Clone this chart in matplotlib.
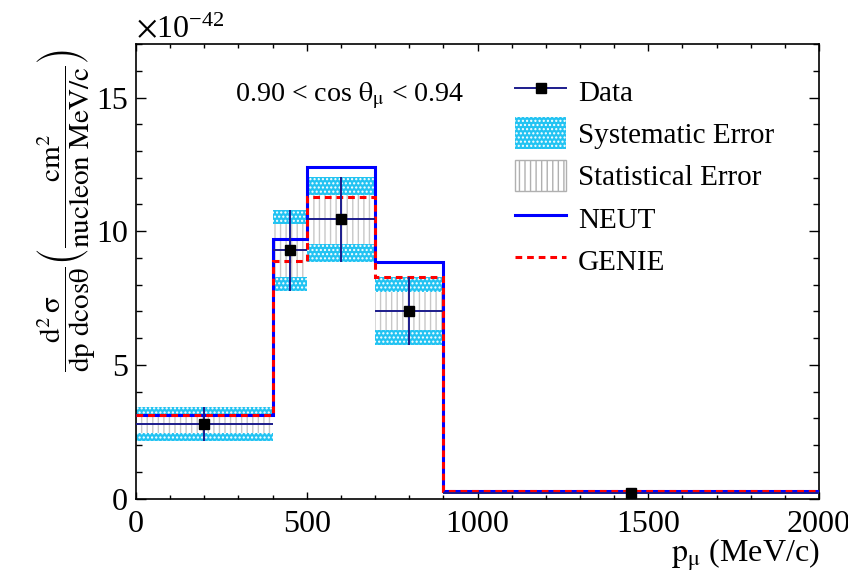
import matplotlib
matplotlib.use("Agg")
import matplotlib.pyplot as plt
from matplotlib.lines import Line2D
from matplotlib.patches import Patch
from matplotlib.ticker import MultipleLocator
import numpy as np

# muon momentum bins (MeV/c) and cross sections in units of 1e-42 cm2/nucleon/(MeV/c)
bin_edges = [0, 400, 500, 700, 900, 2000]
data_x = [200, 450, 600, 800, 1450]
data_y = [2.80, 9.28, 10.44, 7.02, 0.22]
total_err = [0.63, 1.52, 1.58, 1.27, 0.03]
stat_err = [0.36, 0.98, 0.91, 0.70, 0.02]
neut = [3.12, 9.72, 12.40, 8.86, 0.28]
genie = [3.12, 8.90, 11.28, 8.28, 0.27]

plt.rcParams["font.family"] = ["Liberation Serif", "DejaVu Serif"]
plt.rcParams["mathtext.fontset"] = "stix"
plt.rcParams["hatch.linewidth"] = 1.0

edges = np.array(bin_edges, dtype=float)
lo = edges[:-1]
widths = np.diff(edges)
y = np.array(data_y)
tot = np.array(total_err)
st = np.array(stat_err)

fig = plt.figure(figsize=(8.48, 5.76), dpi=100)
ax = fig.add_axes([0.1604, 0.1345, 0.8054, 0.789])

# systematic (total) band, then statistical band on top of it
ax.bar(lo, 2 * tot, width=widths, bottom=y - tot, align="edge",
       color="#22c3f2", edgecolor="white", hatch="....", linewidth=0, zorder=1)
ax.bar(lo, 2 * st, width=widths, bottom=y - st, align="edge",
       color="white", edgecolor="#c8c8c8", hatch="|||", linewidth=0, zorder=2)

# MC predictions
ax.stairs(neut, edges, baseline=None, color="#0000ff", linewidth=2.2, zorder=3)
ax.stairs(genie, edges, baseline=None, color="#ff0000", linewidth=2.2,
          linestyle=(0, (2.2, 1.6)), zorder=4)

# data with x errors = bin half width
xerr = widths / 2
ax.errorbar(data_x, y, xerr=xerr, yerr=tot, fmt="none", ecolor="#1c1c8c",
            elinewidth=1.4, capsize=0, zorder=5)
ax.plot(data_x, y, "s", color="black", markersize=7.7, zorder=6)

ax.set_xlim(0, 2000)
ax.set_ylim(0, 17)
ax.xaxis.set_major_locator(MultipleLocator(500))
ax.xaxis.set_minor_locator(MultipleLocator(100))
ax.yaxis.set_major_locator(MultipleLocator(5))
ax.yaxis.set_minor_locator(MultipleLocator(1))
ax.tick_params(which="both", direction="in", top=True, right=True,
               labelsize=23, width=1.0)
ax.tick_params(axis="x", which="major", length=5, pad=8)
ax.tick_params(axis="x", which="minor", length=2.6)
ax.tick_params(axis="y", which="major", length=7.5, pad=6)
ax.tick_params(axis="y", which="minor", length=4)
for s in ax.spines.values():
    s.set_linewidth(1.2)

fig.text(0.1604, 0.935, r"$\times\mathregular{10^{-42}}$", fontsize=23,
         ha="left", va="baseline")
ax.text(0.145, 0.875, r"0.90 < cos $\mathrm{\theta_{\mu}}$ < 0.94",
        transform=ax.transAxes, fontsize=20.2, va="baseline")
fig.text(0.966, 0.025, r"$\mathrm{p_{\mu}}$ (MeV/c)", fontsize=23, ha="right")
fig.text(0.078, 0.634,
         r"$\mathrm{\dfrac{d^{2}\,\sigma}{dp\ dcos\theta}}\left(\mathrm{\dfrac{cm^{2}}{nucleon\ MeV/c}}\right)$",
         fontsize=21, rotation=90, ha="center", va="center")

handles = [
    Line2D([], [], color="#1c1c8c", linewidth=1.4, marker="s",
           markerfacecolor="black", markeredgecolor="black", markersize=7),
    Patch(facecolor="#22c3f2", edgecolor="white", hatch="....", linewidth=0),
    Patch(facecolor="white", edgecolor="#b0b0b0", hatch="|||", linewidth=1.0),
    Line2D([], [], color="#0000ff", linewidth=2.2),
    Line2D([], [], color="#ff0000", linewidth=2.2, linestyle=(0, (2.2, 1.6))),
]
labels = ["Data", "Systematic Error", "Statistical Error", "NEUT", "GENIE"]
ax.legend(handles, labels, loc="upper left", bbox_to_anchor=(0.555, 0.932),
          frameon=False, fontsize=21, handlelength=1.75, handleheight=1.3,
          labelspacing=0.36, borderaxespad=0, borderpad=0, handletextpad=0.4)

fig.savefig("out.png", dpi=100)
